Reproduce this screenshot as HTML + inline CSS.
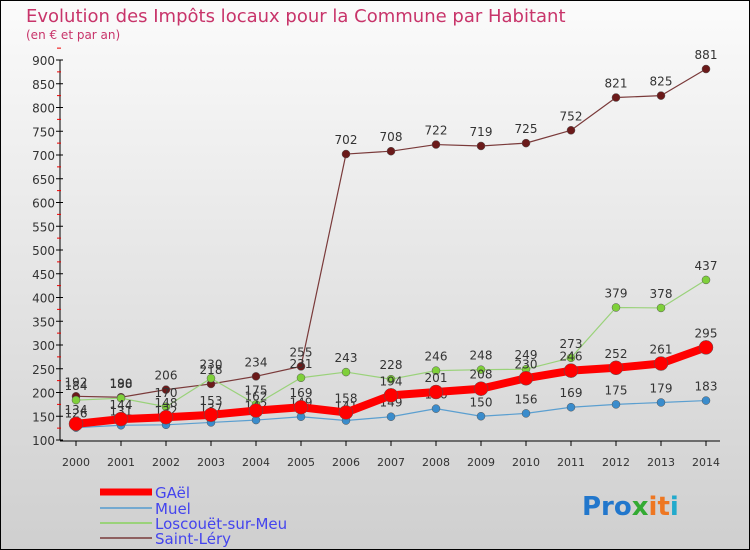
<!DOCTYPE html>
<html><head><meta charset="utf-8"><style>
body{margin:0;}
svg{display:block;font-family:"DejaVu Sans","Liberation Sans",sans-serif;}
</style></head><body>
<svg id="c" width="750" height="550" viewBox="0 0 750 550">
<defs><linearGradient id="bg" x1="0" y1="0" x2="0" y2="1"><stop offset="0" stop-color="#fbfbfb"/><stop offset="1" stop-color="#cfcfcf"/></linearGradient></defs>
<rect x="0" y="0" width="750" height="550" fill="url(#bg)" stroke="#000" stroke-width="2"/>
<text x="26" y="22" font-size="18" fill="#c8346a">Evolution des Impôts locaux pour la Commune par Habitant</text>
<text x="26" y="39" font-size="12" fill="#c8346a">(en € et par an)</text>
<g id="axes"></g><g id="series"></g>
<g font-size="15" fill="#4444ee">
<line x1="100" y1="492" x2="152" y2="492" stroke="#f00" stroke-width="7"/><text x="155" y="498">GAël</text>
<line x1="100" y1="508" x2="152" y2="508" stroke="#74a9d0" stroke-width="2"/><text x="155" y="514">Muel</text>
<line x1="100" y1="523" x2="152" y2="523" stroke="#9ad27a" stroke-width="2"/><text x="155" y="529">Loscouët-sur-Meu</text>
<line x1="100" y1="538" x2="152" y2="538" stroke="#8e6060" stroke-width="2"/><text x="155" y="544">Saint-Léry</text>
</g>
<text x="582" y="515" font-size="26" font-weight="bold"><tspan fill="#2277cc">Pro</tspan><tspan fill="#33aa33">x</tspan><tspan fill="#ee7722">it</tspan><tspan fill="#22aacc">i</tspan></text>
</svg>
<script>
const years=[2000,2001,2002,2003,2004,2005,2006,2007,2008,2009,2010,2011,2012,2013,2014];
const gael=[134,144,148,153,162,169,158,194,201,208,230,246,252,261,295];
const muel=[126,131,132,137,142,149,141,149,166,150,156,169,175,179,183];
const loscouet=[184,188,170,230,175,231,243,228,246,248,249,273,379,378,437];
const saintLery=[192,190,206,218,234,255,702,708,722,719,725,752,821,825,881];
const yTicks=[100,150,200,250,300,350,400,450,500,550,600,650,700,750,800,850,900];
const NS="http://www.w3.org/2000/svg";
const x=i=>76+i*45;
const y=v=>440-(v-100)*0.475;
function mk(t,a,p){const e=document.createElementNS(NS,t);for(const k in a)e.setAttribute(k,a[k]);p.appendChild(e);return e;}
const ax=document.getElementById('axes');
const yl=mk('line',{x1:60,y1:y(900),x2:60,y2:y(100),stroke:'#000'},ax);


const xl=mk('line',{x1:60,y1:441,x2:720,y2:441,stroke:'#000'},ax);


yTicks.forEach(v=>{
 mk('line',{x1:56,y1:y(v),x2:63,y2:y(v),stroke:'#000'},ax);
 mk('line',{x1:57,y1:y(v+25),x2:61,y2:y(v+25),stroke:'#e00'},ax);
 const t=mk('text',{x:55,y:y(v)+5,'font-size':12,'text-anchor':'end',fill:'#333'},ax);t.textContent=v;
 
 
});
years.forEach((yr,i)=>{
 mk('line',{x1:x(i),y1:441,x2:x(i),y2:446,stroke:'#000'},ax);
 const t=mk('text',{x:x(i),y:466,'font-size':11,'text-anchor':'middle',fill:'#333'},ax);t.textContent=yr;
 
 
});
const sg=document.getElementById('series');
function series(data,name,color,w,r,dot){
 const g=mk('g',{},sg);
 
 
 mk('polyline',{points:data.map((v,i)=>x(i)+','+y(v)).join(' '),fill:'none',stroke:color,'stroke-width':w,'stroke-linejoin':'round'},g);
 data.forEach((v,i)=>{
  const c=mk('circle',{cx:x(i),cy:y(v),r:r,fill:dot,stroke:'#555','stroke-width':0.5},g);
  
  
  const t=mk('text',{x:x(i),y:y(v)-10,'font-size':12,'text-anchor':'middle',fill:'#333'},g);t.textContent=v;
  
  
 });
}
series(saintLery,'saint-lery-series','#7a3a3a',1.2,4,'#6b1a1a');
series(loscouet,'loscouet-series','#9ad27a',1.2,4,'#7fd03a');
series(muel,'muel-series','#5b9fd0',1.2,4,'#3a8ccc');
series(gael,'gael-series','#f00',8,7,'#f00');
</script>
</body></html>
